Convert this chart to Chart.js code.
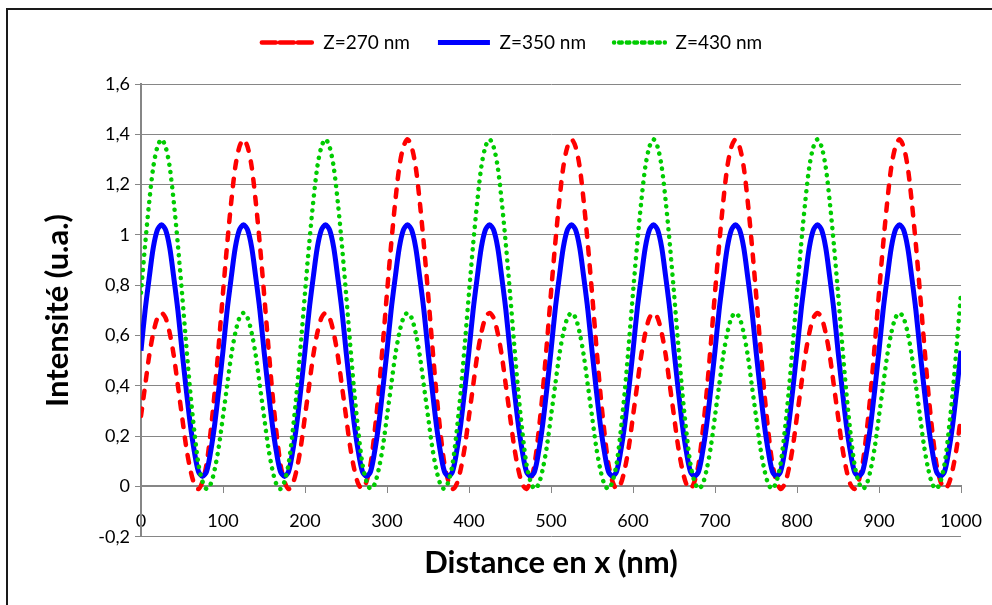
<!DOCTYPE html>
<html>
<head>
<meta charset="utf-8">
<script src="https://cdn.jsdelivr.net/npm/chart.js@4.4.1/dist/chart.umd.min.js"></script>
<style>
  body { margin: 0; overflow: hidden; background: #fff; }
  #frame { position: absolute; left: 6px; top: 8px; width: 1200px; height: 800px;
           border-top: 2px solid #1a1a1a; border-left: 2px solid #1a1a1a; }
  #c { position: absolute; left: 0; top: 0; }
</style>
</head>
<body>
<div id="frame"></div>
<canvas id="c" width="992" height="605"></canvas>
<script>
// Pas d'échantillonnage en x (nm)
const xStep = 5;

// Intensité, Z=270 nm
const z270 = [
    0.28,0.40,0.52,0.61,0.67,0.69,0.67,0.61,0.52,0.40, 0.28,0.16,0.07,0.01,-0.01,0.02,0.09,0.22,0.38,0.57,
    0.77,0.96,1.13,1.27,1.35,1.38,1.35,1.27,1.13,0.96, 0.77,0.57,0.38,0.22,0.09,0.02,-0.01,0.01,0.07,0.16,
    0.28,0.40,0.52,0.61,0.67,0.69,0.67,0.61,0.52,0.40, 0.28,0.16,0.07,0.01,-0.01,0.02,0.09,0.22,0.38,0.57,
    0.77,0.96,1.13,1.27,1.35,1.38,1.35,1.27,1.13,0.96, 0.77,0.57,0.38,0.22,0.09,0.02,-0.01,0.01,0.07,0.16,
    0.28,0.40,0.52,0.61,0.67,0.69,0.67,0.61,0.52,0.40, 0.28,0.16,0.07,0.01,-0.01,0.02,0.09,0.22,0.38,0.57,
    0.77,0.96,1.13,1.27,1.35,1.38,1.35,1.27,1.13,0.96, 0.77,0.57,0.38,0.22,0.09,0.02,-0.01,0.01,0.07,0.16,
    0.28,0.40,0.52,0.61,0.67,0.69,0.67,0.61,0.52,0.40, 0.28,0.16,0.07,0.01,-0.01,0.02,0.09,0.22,0.38,0.57,
    0.77,0.96,1.13,1.27,1.35,1.38,1.35,1.27,1.13,0.96, 0.77,0.57,0.38,0.22,0.09,0.02,-0.01,0.01,0.07,0.16,
    0.28,0.40,0.52,0.61,0.67,0.69,0.67,0.61,0.52,0.40, 0.28,0.16,0.07,0.01,-0.01,0.02,0.09,0.22,0.38,0.57,
    0.77,0.96,1.13,1.27,1.35,1.38,1.35,1.27,1.13,0.96, 0.77,0.57,0.38,0.22,0.09,0.02,-0.01,0.01,0.07,0.16,
    0.28
];

// Z=350 nm
const z350 = [
    0.54,0.70,0.83,0.95,1.02,1.04,1.02,0.95,0.83,0.70, 0.54,0.39,0.25,0.14,0.06,0.04,0.06,0.14,0.25,0.39,
    0.54,0.70,0.83,0.95,1.02,1.04,1.02,0.95,0.83,0.70, 0.54,0.39,0.25,0.14,0.06,0.04,0.06,0.14,0.25,0.39,
    0.54,0.70,0.83,0.95,1.02,1.04,1.02,0.95,0.83,0.70, 0.54,0.39,0.25,0.14,0.06,0.04,0.06,0.14,0.25,0.39,
    0.54,0.70,0.83,0.95,1.02,1.04,1.02,0.95,0.83,0.70, 0.54,0.39,0.25,0.14,0.06,0.04,0.06,0.14,0.25,0.39,
    0.54,0.70,0.83,0.95,1.02,1.04,1.02,0.95,0.83,0.70, 0.54,0.39,0.25,0.14,0.06,0.04,0.06,0.14,0.25,0.39,
    0.54,0.70,0.83,0.95,1.02,1.04,1.02,0.95,0.83,0.70, 0.54,0.39,0.25,0.14,0.06,0.04,0.06,0.14,0.25,0.39,
    0.54,0.70,0.83,0.95,1.02,1.04,1.02,0.95,0.83,0.70, 0.54,0.39,0.25,0.14,0.06,0.04,0.06,0.14,0.25,0.39,
    0.54,0.70,0.83,0.95,1.02,1.04,1.02,0.95,0.83,0.70, 0.54,0.39,0.25,0.14,0.06,0.04,0.06,0.14,0.25,0.39,
    0.54,0.70,0.83,0.95,1.02,1.04,1.02,0.95,0.83,0.70, 0.54,0.39,0.25,0.14,0.06,0.04,0.06,0.14,0.25,0.39,
    0.54,0.70,0.83,0.95,1.02,1.04,1.02,0.95,0.83,0.70, 0.54,0.39,0.25,0.14,0.06,0.04,0.06,0.14,0.25,0.39,
    0.54
];

// Z=430 nm
const z430 = [
    0.77,0.96,1.13,1.27,1.35,1.38,1.35,1.27,1.13,0.96, 0.77,0.57,0.38,0.22,0.09,0.02,-0.01,0.01,0.07,0.16,
    0.28,0.40,0.52,0.61,0.67,0.69,0.67,0.61,0.52,0.40, 0.28,0.16,0.07,0.01,-0.01,0.02,0.09,0.22,0.38,0.57,
    0.77,0.96,1.13,1.27,1.35,1.38,1.35,1.27,1.13,0.96, 0.77,0.57,0.38,0.22,0.09,0.02,-0.01,0.01,0.07,0.16,
    0.28,0.40,0.52,0.61,0.67,0.69,0.67,0.61,0.52,0.40, 0.28,0.16,0.07,0.01,-0.01,0.02,0.09,0.22,0.38,0.57,
    0.77,0.96,1.13,1.27,1.35,1.38,1.35,1.27,1.13,0.96, 0.77,0.57,0.38,0.22,0.09,0.02,-0.01,0.01,0.07,0.16,
    0.28,0.40,0.52,0.61,0.67,0.69,0.67,0.61,0.52,0.40, 0.28,0.16,0.07,0.01,-0.01,0.02,0.09,0.22,0.38,0.57,
    0.77,0.96,1.13,1.27,1.35,1.38,1.35,1.27,1.13,0.96, 0.77,0.57,0.38,0.22,0.09,0.02,-0.01,0.01,0.07,0.16,
    0.28,0.40,0.52,0.61,0.67,0.69,0.67,0.61,0.52,0.40, 0.28,0.16,0.07,0.01,-0.01,0.02,0.09,0.22,0.38,0.57,
    0.77,0.96,1.13,1.27,1.35,1.38,1.35,1.27,1.13,0.96, 0.77,0.57,0.38,0.22,0.09,0.02,-0.01,0.01,0.07,0.16,
    0.28,0.40,0.52,0.61,0.67,0.69,0.67,0.61,0.52,0.40, 0.28,0.16,0.07,0.01,-0.01,0.02,0.09,0.22,0.38,0.57,
    0.77
];

const seriesNames = ['Z=270 nm', 'Z=350 nm', 'Z=430 nm'];
const xTitle = 'Distance en x (nm)';
const yTitle = 'Intensité (u.a.)';

const axisGray = '#868686';
const fontName = 'Lato';

// points {x, y} pour l'axe lineaire
function toPoints(values) {
    return values.map((v, i) => ({ x: i * xStep, y: v }));
}

const ctx = document.getElementById('c').getContext('2d');

new Chart(ctx, {
    type: 'line',
    data: {
        datasets: [
            {
                label: seriesNames[0],
                data: toPoints(z270),
                borderColor: '#ff0000',
                backgroundColor: '#ff0000',
                borderWidth: 4.5,
                borderDash: [7.5, 10.5],
                borderCapStyle: 'round',
                pointRadius: 0,
                tension: 0.3,
                order: 3
            },
            {
                label: seriesNames[1],
                data: toPoints(z350),
                borderColor: '#0000ff',
                backgroundColor: '#0000ff',
                borderWidth: 5,
                pointRadius: 0,
                tension: 0.3,
                order: 2
            },
            {
                label: seriesNames[2],
                data: toPoints(z430),
                borderColor: '#00cc00',
                backgroundColor: '#00cc00',
                borderWidth: 4.5,
                borderDash: [0.1, 7.5],
                borderCapStyle: 'round',
                pointRadius: 0,
                tension: 0.3,
                order: 1
            }
        ]
    },
    options: {
        responsive: false,
        animation: false,
        layout: { padding: { left: 63, right: 31, top: 5, bottom: 0 } },
        plugins: {
            legend: {
                position: 'top',
                labels: {
                    boxWidth: 52,
                    boxHeight: 0,
                    padding: 28,
                    color: '#000',
                    font: { family: fontName, size: 19 },
                    sort: (a, b) => a.datasetIndex - b.datasetIndex
                }
            },
            // espace vide sous la legende
            subtitle: {
                display: true,
                text: ' ',
                position: 'top',
                weight: 500,
                font: { size: 1, lineHeight: 1 },
                padding: { top: 0, bottom: 21 }
            },
            title: {
                display: true,
                text: xTitle,
                position: 'bottom',
                fullSize: false,
                color: '#000',
                font: { family: fontName, size: 31, weight: 'bold', lineHeight: 1.2 },
                padding: { top: 8, bottom: 23 }
            },
            tooltip: { enabled: false }
        },
        scales: {
            x: {
                type: 'linear',
                position: { y: 0 },
                min: 0,
                max: 1000,
                afterFit: (scale) => { scale.paddingLeft = 0; scale.paddingRight = 0; },
                ticks: {
                    stepSize: 100,
                    autoSkip: false,
                    maxRotation: 0,
                    padding: 18,
                    color: '#000',
                    font: { family: fontName, size: 18 },
                    callback: (v) => String(v)
                },
                grid: {
                    drawOnChartArea: false,
                    drawTicks: true,
                    tickLength: 6,
                    color: axisGray,
                    lineWidth: 1
                },
                border: { display: true, color: axisGray, width: 2 }
            },
            y: {
                position: 'left',
                min: -0.2,
                max: 1.6,
                afterFit: (scale) => { scale.width = 78; },
                ticks: {
                    stepSize: 0.2,
                    padding: 5,
                    color: '#000',
                    font: { family: fontName, size: 18 },
                    callback: (v) => String(Math.round(v * 10) / 10).replace('.', ',')
                },
                grid: {
                    color: axisGray,
                    lineWidth: 1,
                    tickLength: 6
                },
                border: { display: true, color: axisGray, width: 2 },
                title: {
                    display: true,
                    text: yTitle,
                    color: '#000',
                    font: { family: fontName, size: 31, weight: 'bold', lineHeight: 1.2 },
                    padding: { top: -24, bottom: 0 }
                }
            }
        }
    }
});
</script>
</body>
</html>
